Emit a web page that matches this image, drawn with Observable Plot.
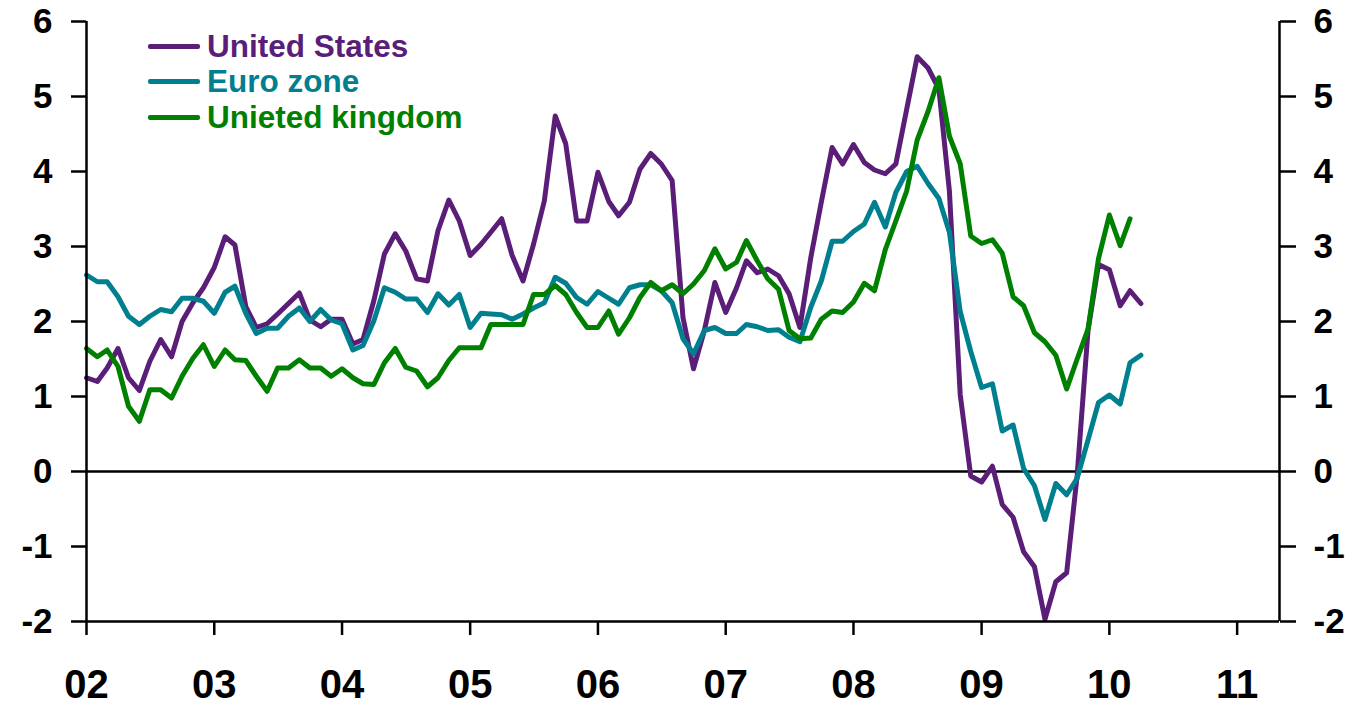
<!DOCTYPE html>
<html><head><meta charset="utf-8">
<script src="https://cdn.jsdelivr.net/npm/d3@7"></script>
<script src="https://cdn.jsdelivr.net/npm/@observablehq/plot@0.6"></script>
<style>
body{margin:0;background:#fff}
#wrap{position:relative;width:1354px;height:706px;overflow:hidden}
.leg{position:absolute;left:148px;height:36px;display:flex;align-items:center;font-family:"Liberation Sans",Arial,sans-serif;font-weight:bold;font-size:31.5px;white-space:nowrap}
.leg .sw{width:52px;height:5px;margin-right:7px;border-radius:2px}
</style>
</head><body><div id="wrap"></div>
<script>
// Monthly series, Jan 2002 onward
const startYear = 2002;
const seriesNames = ["United States", "Euro zone", "Unieted kingdom"];
const seriesColors = ["#5A1E78", "#00808F", "#008000"];
const us = [1.25,1.2,1.38,1.64,1.25,1.08,1.47,1.76,1.53,2.0,2.25,2.45,
  2.72,3.13,3.02,2.2,1.92,1.97,2.1,2.24,2.38,2.02,1.93,2.03,
  2.03,1.7,1.76,2.28,2.9,3.17,2.94,2.57,2.54,3.21,3.62,3.34,
  2.88,3.03,3.19,3.37,2.88,2.54,3.03,3.61,4.74,4.37,3.34,3.34,
  3.99,3.6,3.41,3.59,4.03,4.24,4.1,3.88,2.05,1.37,1.88,2.52,
  2.12,2.45,2.81,2.65,2.7,2.61,2.37,1.92,2.85,3.59,4.32,4.1,
  4.36,4.12,4.02,3.97,4.1,4.83,5.53,5.38,5.1,3.74,1.02,-0.06,
  -0.14,0.07,-0.44,-0.61,-1.07,-1.27,-1.97,-1.47,-1.35,-0.05,1.88,2.76,
  2.69,2.21,2.41,2.24];
const euro = [2.62,2.53,2.53,2.33,2.07,1.96,2.07,2.16,2.13,2.31,2.31,2.27,
  2.11,2.39,2.47,2.11,1.84,1.91,1.91,2.07,2.18,2.0,2.16,2.02,
  1.97,1.62,1.68,2.01,2.45,2.39,2.3,2.3,2.12,2.37,2.22,2.36,
  1.92,2.11,2.1,2.09,2.03,2.1,2.18,2.25,2.59,2.51,2.32,2.23,
  2.4,2.31,2.23,2.45,2.49,2.49,2.41,2.25,1.77,1.57,1.88,1.92,
  1.84,1.84,1.96,1.93,1.88,1.89,1.79,1.73,2.19,2.54,3.07,3.07,
  3.2,3.3,3.59,3.26,3.72,4.0,4.07,3.84,3.64,3.19,2.13,1.6,
  1.12,1.17,0.54,0.62,0.04,-0.19,-0.64,-0.16,-0.31,-0.09,0.42,0.92,
  1.02,0.9,1.45,1.55];
const uk = [1.64,1.53,1.62,1.4,0.87,0.67,1.09,1.09,0.98,1.27,1.51,1.69,
  1.4,1.62,1.49,1.48,1.27,1.07,1.38,1.38,1.49,1.38,1.38,1.27,
  1.37,1.25,1.17,1.16,1.45,1.64,1.39,1.34,1.13,1.25,1.48,1.65,
  1.65,1.65,1.96,1.96,1.96,1.96,2.36,2.36,2.48,2.36,2.12,1.92,
  1.92,2.14,1.83,2.05,2.32,2.52,2.41,2.49,2.37,2.5,2.68,2.97,
  2.7,2.79,3.08,2.81,2.57,2.43,1.88,1.77,1.78,2.03,2.14,2.12,
  2.26,2.51,2.41,2.96,3.34,3.74,4.42,4.8,5.25,4.47,4.1,3.14,
  3.04,3.09,2.91,2.33,2.21,1.85,1.73,1.55,1.1,1.5,1.9,2.84,
  3.42,3.01,3.37];
const yTicks = [-2,-1,0,1,2,3,4,5,6];
const yDomain = [-2, 6];
const xTickYears = [2002,2003,2004,2005,2006,2007,2008,2009,2010,2011];
const xDomain = [new Date(Date.UTC(2002,0,1)), new Date(Date.UTC(2011,4,2))];

const allSeries = [us, euro, uk];
const rows = [];
allSeries.forEach((vals, s) => vals.forEach((v, i) => rows.push({
  date: new Date(Date.UTC(startYear, i, 1)), value: v, series: seriesNames[s]
})));

const font = '"Liberation Sans", Arial, sans-serif';
const chart = Plot.plot({
  width: 1354, height: 706,
  marginLeft: 86, marginRight: 75, marginTop: 21, marginBottom: 85,
  x: {type: "utc", domain: xDomain},
  y: {domain: yDomain},
  color: {domain: seriesNames, range: seriesColors},
  style: {fontFamily: font, fontWeight: "bold", color: "black", background: "white", overflow: "visible"},
  marks: [
    Plot.ruleY([0], {stroke: "black", strokeWidth: 2.5}),
    Plot.lineY(rows, {x: "date", y: "value", z: "series", stroke: "series", strokeWidth: 5, strokeLinejoin: "round", strokeLinecap: "round"}),
    Plot.ruleY([yDomain[0]], {stroke: "black", strokeWidth: 2.5}),
    Plot.ruleX([xDomain[0]], {stroke: "black", strokeWidth: 2.5}),
    Plot.ruleX([xDomain[1]], {stroke: "black", strokeWidth: 2.5}),
    Plot.axisY({anchor: "left", ticks: yTicks, tickSize: 15, tickPadding: 19, tickFormat: d => String(d), fontSize: 35, fontWeight: "bold", strokeWidth: 2.5, label: null}),
    Plot.axisY({anchor: "right", ticks: yTicks, tickSize: 16, tickPadding: 18, tickFormat: d => String(d), fontSize: 35, fontWeight: "bold", strokeWidth: 2.5, label: null}),
    Plot.axisX({anchor: "bottom", ticks: xTickYears.map(y => new Date(Date.UTC(y,0,1))), tickSize: 14, tickPadding: 34, tickFormat: d => String(d.getUTCFullYear()).slice(2), fontSize: 40, fontWeight: "bold", strokeWidth: 2.5, label: null})
  ]
});
const wrap = document.getElementById("wrap");
wrap.appendChild(chart);

// Legend overlay (inside plot, top-left)
const legendTops = [28, 63, 99];
seriesNames.forEach((name, i) => {
  const d = document.createElement("div");
  d.className = "leg";
  d.style.top = legendTops[i] + "px";
  d.style.color = seriesColors[i];
  const sw = document.createElement("span");
  sw.className = "sw";
  sw.style.background = seriesColors[i];
  d.appendChild(sw);
  d.appendChild(document.createTextNode(name));
  wrap.appendChild(d);
});
</script>
</body></html>
